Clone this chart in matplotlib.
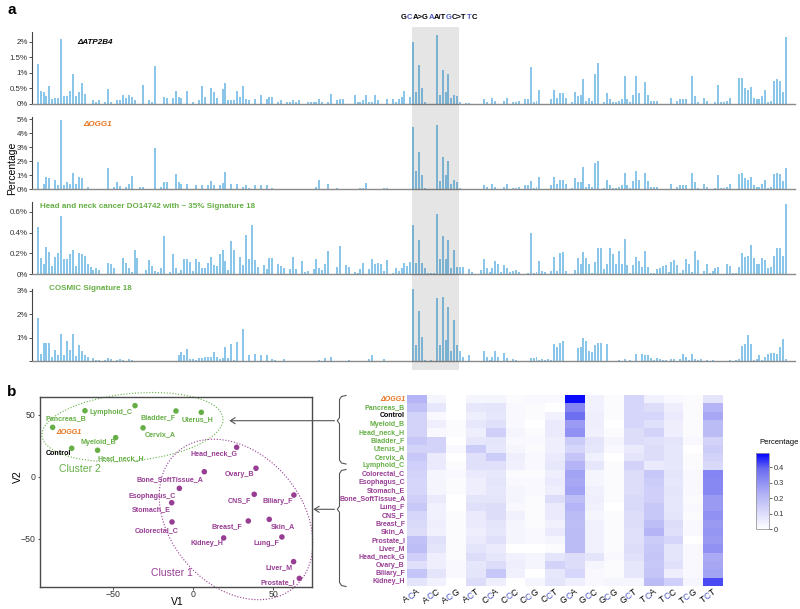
import numpy as np
import matplotlib
matplotlib.use("Agg")
import matplotlib.pyplot as plt
from matplotlib.patches import Rectangle, Ellipse, FancyArrowPatch
from matplotlib.lines import Line2D
from matplotlib.colors import LinearSegmentedColormap
from matplotlib.font_manager import FontProperties
from matplotlib.textpath import TextToPath

# ---------------- data ----------------
# 16 C>A trinucleotide contexts, each split by the outer (+/-2) flanks -> 256 bars
contexts = ["ACA", "ACC", "ACG", "ACT", "CCA", "CCC", "CCG", "CCT",
            "GCA", "GCC", "GCG", "GCT", "TCA", "TCC", "TCG", "TCT"]

# percentages per pentanucleotide context (16 per trinucleotide group)
atp2b4_pct = [
    1.27, .43, .38, .25, .57, .15, .18, .18, 2.08, .25, .25, .43, .95, .25, .38, .67,
    .33, 0, 0, .12, .08, .12, 0, .05, .48, .05, 0, .12, .12, .28, .18, .28,
    .22, .12, 0, 0, .62, 0, .12, .05, 1.23, 0, 0, .22, .18, 0, .18, .43,
    .22, .18, 0, .43, 0, .05, 0, .12, .57, .22, 0, .52, .38, .18, 0, .48,
    .67, .12, .12, .12, .43, .22, .57, .15, .12, 0, .15, 0, .28, 0, .15, .22,
    .22, 0, .05, .12, 0, .05, .05, .12, .05, .12, 0, 0, .05, .05, .05, .05,
    .15, .05, 0, .05, .32, 0, .12, .15, .15, 0, 0, 0, .28, .05, .05, .12,
    .28, .05, .05, .28, .12, 0, 0, .15, 0, .15, .05, .15, .22, .43, 0, .22,
    2.0, .4, 1.26, .52, .08, 0, 0, 0, 2.23, .28, 1.1, .4, .95, .18, .3, .25,
    .05, 0, .02, .02, 0, 0, 0, 0, .15, .08, 0, .2, .1, 0, 0, .1,
    .18, 0, .05, .05, .1, 0, .15, .15, 1.2, .05, .1, .45, 0, 0, 0, .15,
    .45, .2, .35, .35, .2, 0, .05, .4, .25, .28, .8, .1, .2, .1, .95, 1.3,
    0, .05, .35, .15, .05, .05, .1, .15, .9, .15, .05, .3, .9, .35, 0, .7,
    .3, .1, .1, .1, 0, 0, 0, 0, .2, 0, .1, .15, .15, .15, 0, .9,
    .25, .05, 0, .2, .1, 0, 0, .05, .6, .05, .05, .1, .2, 0, 0, .85,
    .85, .5, .45, .55, .2, .15, .15, .25, .45, .05, .1, .75, .8, .75, .4, 2.15,
]

ogg1_pct = [
    1.95, 0, .4, .85, .8, 0, .65, .3, 4.95, .3, .55, .4, 1.2, .38, .9, .8,
    0, .15, .05, .05, 0, 0, 0, 0, 1.55, 0, .15, .55, .25, .05, .15, .35,
    .95, 0, 0, .15, .15, 0, 0, .05, 2.95, .05, .2, .5, .55, 0, 0, 1.1,
    .55, .35, 0, .35, 0, 0, .3, .05, .3, .05, .3, .6, .3, .05, .3, .45,
    1.25, .05, .4, .05, .4, .05, .2, .3, .1, .05, .3, .05, .3, .05, .3, .05,
    .1, 0, 0, 0, .05, 0, 0, 0, .05, 0, 0, 0, 0, 0, 0, .2,
    .65, .05, 0, .4, .05, .05, .1, 0, .05, 0, .05, 0, 0, 0, .1, .1,
    .45, .05, 0, 0, .05, .05, .1, .1, 0, 0, .05, 0, 0, 0, 0, .05,
    4.45, 1.3, 2.7, 1.0, .1, 0, 0, 0, 4.6, .6, 2.3, 1.0, 2.0, .4, .7, .5,
    .1, 0, .05, .05, 0, 0, 0, 0, .3, .15, 0, .4, .2, 0, 0, .2,
    .35, 0, .1, .1, .2, 0, .3, .3, .6, .1, .2, .9, 0, 0, 0, .3,
    .9, .4, .7, .7, .4, 0, .1, .8, .5, .55, 1.6, .2, .4, .2, 1.9, 2.0,
    0, .1, .7, .3, .1, .1, .2, .3, 1.2, .3, .1, .6, 1.3, .7, 0, 1.2,
    .6, .2, .2, .2, 0, 0, 0, 0, .4, 0, .2, .3, .3, .3, 0, 1.2,
    .5, .1, 0, .4, .2, 0, 0, .1, 1.0, .1, .1, .2, .4, 0, 0, 1.1,
    1.2, .8, .7, .9, .3, .2, .2, .4, .7, .1, .2, 1.1, 1.2, 1.1, .6, 1.5,
]

head_neck_pct = [
    .45, .16, .1, .26, .21, .08, .17, .2, .56, .15, .15, .19, .23, .08, .2, .19,
    .18, .1, .07, .04, .06, .04, 0, 0, .11, .1, .06, 0, 0, .16, .11, .06,
    .02, .23, .16, 0, 0, .04, .14, .08, .03, .02, .06, .37, 0, .02, .19, .06,
    .01, .04, .15, .15, .12, .03, .15, .12, .06, .06, .11, .17, .09, .08, .19, .23,
    .13, .04, .32, .23, 0, .17, .09, .38, .15, .47, .14, .07, 0, .09, .05, .16,
    .16, 0, .1, .08, .06, 0, .05, .17, .05, 0, .13, .02, .03, 0, .05, .15,
    .06, .04, .1, .22, 0, 0, .07, .27, 0, .09, .07, 0, .02, .01, .05, .11,
    0, .05, .15, .1, .11, .1, .03, .14, 0, .01, .06, .03, .06, .11, .08, .12,
    .47, .11, .33, .11, .06, .01, .01, .01, .58, .15, .37, .15, .33, .06, .23, .07,
    .07, .07, 0, .05, .02, 0, 0, .04, .15, .06, .02, .06, .13, .1, .02, .09,
    .06, .02, .03, .04, .02, 0, 0, .01, .4, .01, .02, .13, .03, .02, 0, .03,
    .17, .03, .2, .21, .03, 0, 0, .04, .16, .1, .21, .16, .1, .01, .12, .25,
    .25, .05, .1, .25, .19, .1, .22, .1, .34, .09, .01, .09, .17, .13, .07, .22,
    .07, .01, .01, .05, .06, .08, .09, .02, .12, .14, .09, .01, .04, .15, .1, .02,
    .22, .14, 0, .03, .1, .01, .03, .06, .07, 0, 0, .1, .08, .01, .01, .07,
    .2, .17, .18, .28, .16, .1, .1, .16, .14, .06, .07, .18, .25, .25, .18, .67,
]

sig18_pct = [
    1.83, .33, .8, .8, .78, .18, .5, .27, 1.15, .27, .85, .5, 1.17, .23, .7, .45,
    .27, .2, 0, .12, .05, .05, 0, .07, .15, .08, 0, .05, .1, .07, 0, .1,
    .07, 0, .03, .03, .03, 0, 0, .03, .03, 0, .03, 0, .03, 0, .03, 0,
    .25, .38, .28, .52, .08, .08, .05, .13, .13, .17, .17, .18, .4, .2, .1, .15,
    .6, .15, .72, .05, .82, 0, 1.38, 0, .25, 0, .3, 0, .25, 0, .27, 0,
    .08, .06, 0, 0, .08, 0, 0, 0, 0, 0, 0, 0, 0, .03, 0, 0,
    .05, 0, .15, 0, .2, 0, 0, 0, 0, 0, .05, 0, 0, 0, .03, 0,
    0, .1, .25, 0, 0, 0, .08, 0, .03, 0, 0, 0, 0, 0, 0, 0,
    3.24, .7, 2.13, 1.05, .05, 0, .05, 0, 2.7, .68, 2.73, .9, 2.3, .45, 1.75, .7,
    .45, .2, 0, .25, 0, 0, 0, 0, .45, .18, .05, .2, .45, .2, 0, .35,
    .15, 0, .08, .05, 0, 0, 0, 0, .15, .12, .18, .05, .08, .05, .08, .05,
    .75, .6, .78, .85, 0, 0, 0, 0, .55, .6, 1.0, .85, .45, .4, .7, .78,
    .78, 0, .75, 0, 0, 0, .07, 0, .1, 0, .07, 0, .3, 0, .3, .25,
    .25, .15, .05, .15, .1, .05, .05, 0, .1, .1, 0, .1, .3, .2, .05, .3,
    .1, .05, .1, 0, .05, 0, .05, 0, 0, 0, .03, 0, .05, 0, .05, .1,
    .65, .75, 1.1, .75, .05, .1, .25, .05, .2, .3, .37, .35, .3, .6, .95, .1,
]

# panel b: signature-space coordinates
scatter_names = ["Pancreas_B", "Lymphoid_C", "Bladder_F", "Uterus_H", "ΔOGG1", "Cervix_A",
                 "Myeloid_B", "Control", "Head_neck_H", "Head_neck_G", "Ovary_B",
                 "Bone_SoftTissue_A", "Esophagus_C", "CNS_F", "Biliary_F", "Stomach_E",
                 "Skin_A", "Breast_F", "Colorectal_C", "Lung_F", "Kidney_H", "Liver_M",
                 "Prostate_I"]
v1 = [-67.7, -36.4, -10.8, 5.0, -87.9, -31.4, -48.5, -76.0, -59.8, 27.1, 39.2,
      6.9, -8.7, 38.1, 62.9, -13.5, 47.5, 34.4, -13.3, 55.4, 19.0, 62.7, 66.3]
v2 = [53.2, 57.3, 53.0, 51.9, 39.8, 39.4, 31.5, 22.9, 21.3, 23.7, 6.8,
      4.0, -9.4, -14.2, -14.8, -21.0, -34.4, -35.7, -36.5, -48.6, -49.4, -68.5, -82.0]
cluster2 = ["Pancreas_B", "Lymphoid_C", "Bladder_F", "Uterus_H", "ΔOGG1", "Cervix_A",
            "Myeloid_B", "Control", "Head_neck_H"]

# heatmap rows (C>A trinucleotide fractions)
heat_rows = ["ΔOGG1", "Pancreas_B", "Control", "Myeloid_B", "Head_neck_H", "Bladder_F",
             "Uterus_H", "Cervix_A", "Lymphoid_C", "Colorectal_C", "Esophagus_C",
             "Stomach_E", "Bone_SoftTissue_A", "Lung_F", "CNS_F", "Breast_F", "Skin_A",
             "Prostate_I", "Liver_M", "Head_neck_G", "Ovary_B", "Biliary_F", "Kidney_H"]
heat_values = [
    [.22, .03, 0, .03, .03, .01, .02, .02, .48, .04, .01, .12, .04, .02, .01, .08],
    [.18, .07, 0, .07, .08, .02, .01, 0, .33, .04, .01, .12, .10, .05, .01, .22],
    [.13, .02, 0, .05, .07, .02, .01, .04, .38, .05, .01, .12, .12, .06, .01, .25],
    [.13, .05, .01, .07, .09, .02, 0, .06, .28, .05, 0, .12, .09, .05, .01, .20],
    [.13, .02, .01, .05, .14, .03, .01, .06, .30, .04, .01, .10, .13, .05, .01, .20],
    [.16, .13, 0, .07, .08, .02, .02, .05, .15, .08, .03, .10, .09, .08, .02, .13],
    [.13, .13, .02, .15, .07, .03, .01, .05, .12, .07, .02, .06, .10, .07, 0, .15],
    [.16, .06, 0, .09, .15, .05, .02, .06, .17, .04, 0, .08, .10, .07, .01, .13],
    [.14, .06, .01, .09, .09, .04, .02, .07, .22, .07, .01, .13, .06, .07, .01, .11],
    [.13, .03, .02, .06, .07, .01, .01, .05, .26, .03, .01, .10, .16, .08, .02, .33],
    [.12, .03, .01, .05, .08, .02, .02, .06, .25, .03, .01, .10, .15, .07, .02, .32],
    [.12, .03, .01, .05, .07, .03, .02, .05, .26, .04, .01, .10, .14, .08, .02, .32],
    [.14, .06, 0, .08, .08, .03, .01, .10, .19, .05, .01, .11, .14, .07, .01, .28],
    [.16, .04, 0, .09, .10, .02, .01, .06, .22, .04, 0, .11, .16, .07, .02, .28],
    [.12, .04, .01, .06, .10, .04, .01, .06, .20, .03, .01, .10, .16, .08, .01, .30],
    [.11, .05, .01, .06, .08, .03, .01, .04, .19, .04, .01, .10, .19, .10, .02, .28],
    [.10, .04, .01, .05, .07, .03, .02, .06, .20, .04, .01, .09, .22, .09, .02, .29],
    [.18, .09, .01, .06, .09, .03, .02, .03, .20, .04, .01, .09, .15, .12, 0, .28],
    [.19, .08, .01, .08, .06, 0, 0, .01, .20, .04, .01, .10, .16, .08, .02, .30],
    [.14, .05, .01, .10, .07, .04, .03, .08, .10, .08, .02, .09, .17, .08, .02, .24],
    [.09, .05, .02, .07, .10, .05, .03, .13, .10, .03, .01, .07, .16, .09, .02, .25],
    [.17, .08, .02, .08, .16, .04, 0, .07, .12, .02, .01, .07, .17, .05, .02, .26],
    [.08, .04, 0, .10, .05, 0, .03, .08, .05, .02, .03, .03, .20, .14, .03, .42],
]

# ---------------- layout helpers ----------------
W, H = 800, 609
GREEN = "#66AF46"
PURPLE = "#983D94"
ORANGE = "#E8741E"
BLUE_TXT = "#4A57C6"
BAR = "#8AC6E9"

plt.rcParams["font.family"] = ["Liberation Sans", "DejaVu Sans"]
fig = plt.figure(figsize=(8, 6.09), dpi=100)
tp = TextToPath()


def fx(x):
    return x / W


def fy(y):
    return 1 - y / H


def px_axes(left, top, right, bottom):
    """Axes placed by pixel box (y measured from the top)."""
    return fig.add_axes([left / W, 1 - bottom / H, (right - left) / W, (bottom - top) / H])


def width_px(s, size, weight="normal"):
    prop = FontProperties(family="Liberation Sans", size=size, weight=weight)
    w, _, _ = tp.get_text_width_height_descent(s, prop, ismath=False)
    return w * 100 / 72


def colored_text(x, y, parts, size, weight="normal", angle=0.0, anchor="left"):
    """Draw a string made of (text, color) parts; x, y in pixels (baseline)."""
    full = "".join(p for p, _ in parts)
    ref = width_px("X", size, weight)
    total = width_px(full + "X", size, weight) - ref
    c, s = np.cos(np.radians(angle)), np.sin(np.radians(angle))
    if anchor == "right":
        x, y = x - total * c, y + total * s
    elif anchor == "center":
        x, y = x - total * c / 2, y + total * s / 2
    done = ""
    for txt, col in parts:
        off = width_px(done + "X", size, weight) - ref if done else 0.0
        fig.text(fx(x + off * c), fy(y - off * s), txt, color=col, fontsize=size,
                 fontweight=weight, rotation=angle, rotation_mode="anchor",
                 ha="left", va="baseline")
        done += txt


# ---------------- panel a ----------------
def bar_panel(values, top, zero, ymax, ticks, ticklabels):
    ax = px_axes(32, top, 795, zero)
    x = np.arange(len(values))
    ax.bar(x, values, width=0.68, color=BAR, linewidth=0)
    ax.set_xlim(-1.94, 258.1)
    ax.set_ylim(0, ymax)
    ax.set_xticks([])
    ax.set_yticks(ticks)
    ax.set_yticklabels(ticklabels)
    ax.tick_params(axis="y", length=2, width=0.6, pad=1, labelsize=5.7,
                   colors="#333333")
    for side in ["top", "right"]:
        ax.spines[side].set_visible(False)
    ax.spines["left"].set_color("#444444")
    ax.spines["left"].set_linewidth(0.8)
    ax.spines["bottom"].set_color("#8a8a8a")
    ax.spines["bottom"].set_linewidth(1.0)
    return ax


bar_panel(atp2b4_pct, 31.7, 104.0, 2.32, [0, .5, 1, 1.5, 2],
          ["0%", "0.5%", "1%", "1.5%", "2%"])
bar_panel(ogg1_pct, 116.7, 189.3, 5.19, [0, 1, 2, 3, 4, 5],
          ["0%", "1%", "2%", "3%", "4%", "5%"])
bar_panel(head_neck_pct, 201.7, 274.3, 0.696, [0, .2, .4, .6],
          ["0%", "0.2%", "0.4%", "0.6%"])
bar_panel(sig18_pct, 288.7, 361.3, 3.09, [0, 1, 2, 3], ["", "1%", "2%", "3%"])

# shaded GCA block
fig.add_artist(Rectangle((fx(411.8), fy(370)), (458.8 - 411.8) / W, (370 - 27) / H,
                         transform=fig.transFigure, facecolor="black", alpha=0.1,
                         linewidth=0, zorder=5))

fig.text(fx(77), fy(42), "ΔATP2B4", fontsize=5.8, fontweight="bold", style="italic",
         va="center", ha="left", color="black")
fig.text(fx(83), fy(124), "ΔOGG1", fontsize=5.8, fontweight="bold", style="italic",
         va="center", ha="left", color=ORANGE)
fig.text(fx(40), fy(206), "Head and neck cancer DO14742 with ~ 35% Signature 18",
         fontsize=5.8, fontweight="bold", va="center", ha="left", color=GREEN)
fig.text(fx(49), fy(289), "COSMIC Signature 18", fontsize=5.8, fontweight="bold",
         va="center", ha="left", color=GREEN)
fig.text(fx(12), fy(168), "Percentage", fontsize=7.5, rotation=90, va="center",
         ha="center")
fig.text(fx(12), fy(10), "a", fontsize=11, fontweight="bold", va="center", ha="center")
fig.text(fx(12), fy(392), "b", fontsize=11, fontweight="bold", va="center", ha="center")

colored_text(439, 19, [("G", "black"), ("C", BLUE_TXT), ("A>G", "black"), ("A", BLUE_TXT),
                       ("A/T", "black"), ("G", BLUE_TXT), ("C>T", "black"),
                       ("T", BLUE_TXT), ("C", "black")],
             5.5, weight="bold", anchor="center")

# ---------------- panel b: scatter ----------------
sc = px_axes(40, 396.7, 312.3, 587.3)
sc.set_xlim(-95.8, 74.4)
sc.set_ylim(-89.2, 64.5)
point_cols = [GREEN if n in cluster2 else PURPLE for n in scatter_names]
sc.scatter(v1, v2, s=16, c=point_cols, linewidths=0, zorder=3)

# label offsets in pixels (dx right, dy down) - layout only
label_offsets = {
    "Pancreas_B": (-19, 8), "Lymphoid_C": (-24, 7), "Bladder_F": (-18, 7),
    "Uterus_H": (-4, 7), "ΔOGG1": (16, 5), "Cervix_A": (17, 7), "Myeloid_B": (-17, 5),
    "Control": (-13, 5), "Head_neck_H": (23, 8), "Head_neck_G": (-23, 6),
    "Ovary_B": (-16, 6), "Bone_SoftTissue_A": (-34, 8), "Esophagus_C": (-27, 8),
    "CNS_F": (-15, 6), "Biliary_F": (-16, 6), "Stomach_E": (-20, 7), "Skin_A": (14, 7),
    "Breast_F": (-21, 6), "Colorectal_C": (-15, 9), "Lung_F": (-15, 7),
    "Kidney_H": (-17, 6), "Liver_M": (-15, 6), "Prostate_I": (-22, 4),
}
for name, xv, yv in zip(scatter_names, v1, v2):
    dx, dy = label_offsets[name]
    col = GREEN if name in cluster2 else PURPLE
    style = "normal"
    if name == "Control":
        col = "black"
    if name == "ΔOGG1":
        col, style = ORANGE, "italic"
    sc.annotate(name, (xv, yv), xytext=(dx * 0.72, -dy * 0.72), textcoords="offset points",
                ha="center", va="center", fontsize=5.1, fontweight="bold", color=col,
                style=style, annotation_clip=False)

sc.add_patch(Ellipse((-38, 40), 114, 54, angle=8, fill=False, edgecolor=GREEN,
                     linestyle=(0, (1, 1.6)), linewidth=0.8, clip_on=False))
sc.add_patch(Ellipse((26.7, -34.5), 135, 88, angle=112, fill=False, edgecolor=PURPLE,
                     linestyle=(0, (1, 1.6)), linewidth=0.8, clip_on=False))
sc.text(-70.8, 6, "Cluster 2", color=GREEN, fontsize=7.5, ha="center", va="center")
sc.text(-13.5, -77.4, "Cluster 1", color=PURPLE, fontsize=7.5, ha="center", va="center")

sc.set_xticks([-50, 0, 50])
sc.set_yticks([-50, 0, 50])
sc.set_xticklabels(["\u221250", "0", "50"])
sc.set_yticklabels(["\u221250", "0", "50"])
sc.tick_params(length=1.8, width=0.6, pad=1.5, labelsize=6.3, colors="#333333")
sc.tick_params(axis="x", pad=0.5)
for sp in sc.spines.values():
    sp.set_color("#4a4a4a")
    sp.set_linewidth(1.0)
fig.text(fx(177), fy(602), "V1", fontsize=7.5, ha="center", va="center")
fig.text(fx(18), fy(477), "V2", fontsize=7.5, rotation=90, ha="center", va="center")

# ---------------- panel b: heatmap ----------------
cmap = LinearSegmentedColormap.from_list(
    "wb", [(0, "#FFFFFF"), (0.45, "#B4B4F6"), (0.8, "#6A6AF0"), (1.0, "#0000FF")])
hm = px_axes(407.3, 395.3, 723.3, 585.7)
im = hm.imshow(np.array(heat_values), cmap=cmap, vmin=0, vmax=0.49, aspect="auto",
               interpolation="nearest")
hm.axis("off")

row_h = (585.7 - 395.3) / len(heat_rows)
for i, name in enumerate(heat_rows):
    col = GREEN if name in cluster2 else PURPLE
    style = "normal"
    if name == "Control":
        col = "black"
    if name == "ΔOGG1":
        col, style = ORANGE, "italic"
    fig.text(fx(405), fy(395.3 + row_h * (i + 0.5)), name, ha="right", va="center",
             fontsize=5.0, fontweight="bold", color=col, style=style)

col_w = (723.3 - 407.3) / len(contexts)
for j, ctx in enumerate(contexts):
    xc = 407.3 + col_w * (j + 0.5)
    colored_text(xc + 3, 593, [(ctx[0], "black"), (ctx[1], BLUE_TXT), (ctx[2], "black")],
                 6.3, angle=35, anchor="right")

cax = px_axes(755.7, 453.3, 769.3, 529.3)
cb = fig.colorbar(im, cax=cax, ticks=[0, .1, .2, .3, .4])
cb.set_ticklabels(["0", "0.1", "0.2", "0.3", "0.4"])
cb.outline.set_edgecolor("#999999")
cb.outline.set_linewidth(0.6)
cax.tick_params(length=2, width=0.5, labelsize=5.3, pad=1.5, colors="#333333")
fig.text(fx(779), fy(443), "Percentage", fontsize=5.5, ha="center", va="center")

# ---------------- brackets and arrows ----------------
def bracket(top, bottom, mid, x=339.5):
    xs = [346, 341.5, x, x, x - 2.2, x, x, 341.5, 346]
    ys = [top, top + 1, top + 4, mid - 3, mid, mid + 3, bottom - 4, bottom - 1, bottom]
    fig.add_artist(Line2D([fx(v) for v in xs], [fy(v) for v in ys],
                          transform=fig.transFigure, color="#555555", linewidth=0.8))


bracket(395.5, 464, 420.7)
bracket(469.5, 586.5, 509.3)
for yy, xend in [(420.7, 226.5), (509.3, 310.5)]:
    fig.add_artist(FancyArrowPatch((fx(337.3), fy(yy)), (fx(xend), fy(yy)),
                                   transform=fig.transFigure,
                                   arrowstyle="->,head_length=3.5,head_width=2.2",
                                   color="#555555", linewidth=0.8, mutation_scale=1))

fig.savefig("out.png", dpi=100)
